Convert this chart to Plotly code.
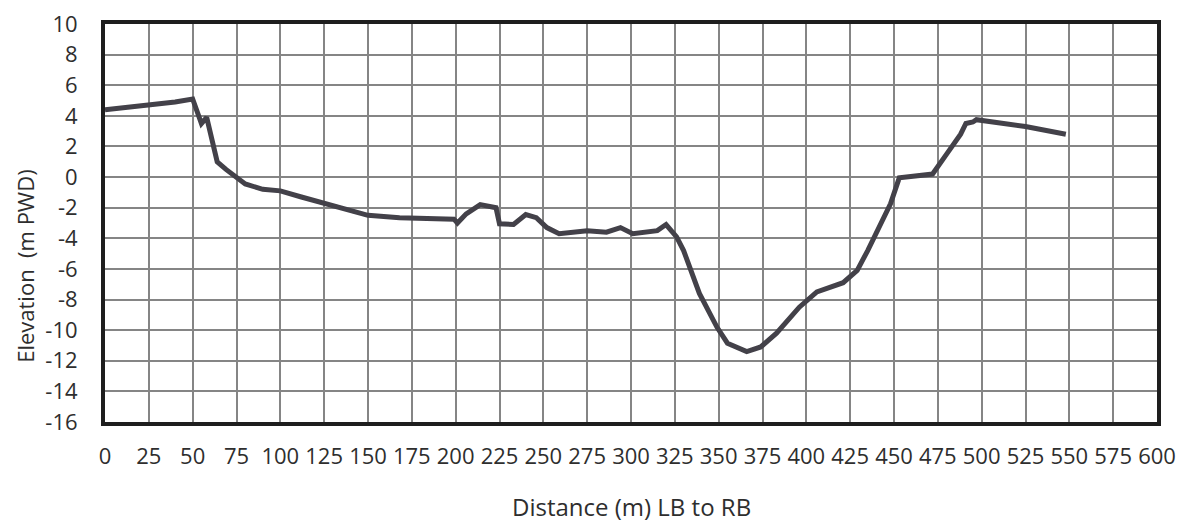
import plotly.graph_objects as go

distance_m = [0, 25, 40, 50, 52, 53, 55, 58, 60, 62, 64, 69, 75, 80, 90, 100, 112, 125,
              140, 150, 168, 199, 201, 206, 214, 223, 225, 233, 240, 246, 252, 259, 275,
              286, 294, 301, 315, 320, 326, 330, 339, 349, 355, 366, 374, 383, 396, 406,
              421, 429, 435, 448, 453, 472, 480, 488, 491, 495, 497, 525, 548]
elevation_m = [4.4, 4.7, 4.9, 5.1, 4.4, 4.0, 3.5, 3.9, 2.8, 2.0, 1.0, 0.5, 0.0, -0.45, -0.8,
               -0.9, -1.3, -1.7, -2.2, -2.5, -2.65, -2.75, -3.0, -2.4, -1.8, -2.0, -3.05,
               -3.1, -2.45, -2.65, -3.3, -3.7, -3.5, -3.6, -3.3, -3.7, -3.5, -3.1, -3.9,
               -4.8, -7.6, -9.8, -10.85, -11.4, -11.1, -10.2, -8.5, -7.5, -6.9, -6.1, -4.8,
               -1.75, -0.05, 0.2, 1.5, 2.8, 3.5, 3.6, 3.75, 3.3, 2.8]

x_ticks = list(range(0, 601, 25))
y_ticks = list(range(-16, 11, 2))

fig = go.Figure()
fig.add_trace(go.Scatter(x=distance_m, y=elevation_m, mode="lines",
                         line=dict(color="#434149", width=5), showlegend=False))

font_family = "Open Sans, Liberation Sans, sans-serif"
fig.update_layout(
    width=1179, height=517,
    margin=dict(l=97, r=30, t=16, b=103, autoexpand=False),
    paper_bgcolor="white", plot_bgcolor="white",
    font=dict(family=font_family, color="#2e2e2e", size=22),
    xaxis=dict(range=[0, 600], tickvals=x_ticks, ticktext=[str(v) for v in x_ticks],
               showgrid=True, gridcolor="#858585", gridwidth=2,
               showline=True, linecolor="#1e1e1e", linewidth=4, mirror=True,
               zeroline=False, ticks="", ticklabelstandoff=12, automargin=False,
               ticklabeloverflow="allow",
               tickfont=dict(size=22, color="#2e2e2e")),
    yaxis=dict(range=[-16, 10], tickvals=y_ticks, ticktext=[str(v) for v in y_ticks],
               showgrid=True, gridcolor="#858585", gridwidth=2,
               showline=True, linecolor="#1e1e1e", linewidth=4, mirror=True,
               zeroline=False, ticks="", ticklabelstandoff=19, automargin=False,
               ticklabeloverflow="allow",
               tickfont=dict(size=22, color="#2e2e2e")),
    annotations=[
        dict(text="Distance (m) LB to RB", xref="paper", yref="paper",
             x=0.5, y=-0.212, xanchor="center", yanchor="middle", showarrow=False,
             font=dict(size=24, color="#2e2e2e")),
        dict(text="Elevation  (m PWD)", xref="paper", yref="paper",
             x=-0.076, y=0.39, xanchor="center", yanchor="middle", showarrow=False,
             textangle=-90, font=dict(size=22, color="#2e2e2e")),
    ],
)

fig.write_html("out.html")
